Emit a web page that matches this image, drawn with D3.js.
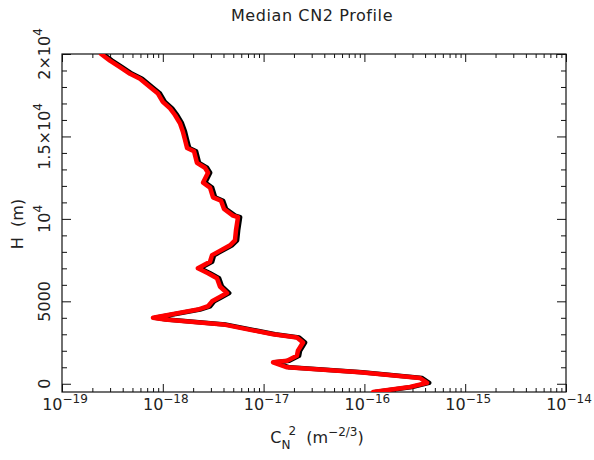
<!DOCTYPE html>
<html>
<head>
<meta charset="utf-8">
<script src="https://cdn.jsdelivr.net/npm/d3@7"></script>
<style>
  html, body { margin: 0; padding: 0; background: #fff; }
  svg { display: block; }
  text { font-family: "DejaVu Sans", sans-serif; fill: #222; }
</style>
</head>
<body>
<svg id="chart" width="594" height="460"></svg>
<script>
// ---- data ----
const title = "Median CN2 Profile";
const heights = [20000, 19600, 19200, 18800, 18500, 18000, 17600, 17100, 16700, 16300,
  15800, 15300, 14800, 14300, 14100, 13400, 13100, 12800, 12200, 11900,
  11300, 11100, 10600, 10200, 10100, 9300, 8700, 8400, 8000, 7800,
  7400, 7200, 7000, 6700, 6400, 5900, 5500, 5200, 5000, 4700,
  4500, 4000, 3900, 3600, 3000, 2800, 2500, 2000, 1700, 1400,
  1300, 1000, 700, 350, 50, -200, -500];
const cn2Red = [2.44e-19, 2.99e-19, 3.76e-19, 4.73e-19, 5.94e-19, 7.46e-19, 8.95e-19, 1.00e-18, 1.18e-18, 1.32e-18,
  1.48e-18, 1.58e-18, 1.66e-18, 1.74e-18, 2.04e-18, 2.18e-18, 2.62e-18, 2.81e-18, 2.51e-18, 2.94e-18,
  3.15e-18, 3.78e-18, 4.05e-18, 4.97e-18, 5.57e-18, 5.32e-18, 5.20e-18, 4.65e-18, 3.53e-18, 3.08e-18,
  2.94e-18, 2.56e-18, 2.23e-18, 2.81e-18, 3.45e-18, 3.69e-18, 4.34e-18, 3.53e-18, 3.08e-18, 2.81e-18,
  2.23e-18, 8.00e-19, 1.05e-18, 3.95e-18, 1.24e-17, 2.14e-17, 2.46e-17, 2.19e-17, 2.14e-17, 1.71e-17,
  1.24e-17, 1.71e-17, 9.03e-17, 3.56e-16, 4.18e-16, 2.83e-16, 1.22e-16];
const cn2Black = [2.56e-19, 3.14e-19, 3.95e-19, 4.97e-19, 6.24e-19, 7.83e-19, 9.40e-19, 1.05e-18, 1.24e-18, 1.39e-18,
  1.55e-18, 1.66e-18, 1.74e-18, 1.83e-18, 2.14e-18, 2.29e-18, 2.75e-18, 2.95e-18, 2.64e-18, 3.09e-18,
  3.31e-18, 3.97e-18, 4.25e-18, 5.22e-18, 5.85e-18, 5.59e-18, 5.46e-18, 4.88e-18, 3.71e-18, 3.23e-18,
  3.09e-18, 2.69e-18, 2.34e-18, 2.95e-18, 3.62e-18, 3.87e-18, 4.56e-18, 3.71e-18, 3.23e-18, 2.95e-18,
  2.34e-18, 8.40e-19, 1.10e-18, 4.15e-18, 1.30e-17, 2.25e-17, 2.58e-17, 2.30e-17, 2.25e-17, 1.80e-17,
  1.30e-17, 1.80e-17, 9.48e-17, 3.74e-16, 4.39e-16, 2.97e-16, 1.28e-16];
const xMajorExponents = [-19, -18, -17, -16, -15, -14];
const yMajorTicks = [0, 5000, 10000, 15000, 20000];
const yMajorLabels = [["0", null], ["5000", null], ["10", "4"], ["1.5\u00d710", "4"], ["2\u00d710", "4"]];

// ---- layout ----
const plot = { left: 62, top: 54, right: 566, bottom: 392 };
const svg = d3.select("#chart");

const x = d3.scaleLog().domain([1e-19, 1e-14]).range([plot.left, plot.right]);
const y = d3.scaleLinear().domain([-500, 20000]).range([plot.bottom, plot.top]);

const xMajor = xMajorExponents.map(e => Math.pow(10, e));
const xMinor = [];
xMajorExponents.slice(0, -1).forEach(e => { for (let k = 2; k <= 9; k++) xMinor.push(k * Math.pow(10, e)); });
const yMinor = d3.range(1000, 20000, 1000).filter(v => v % 5000 !== 0);

function styleAxis(g) {
  g.select(".domain").remove();
  g.selectAll(".tick line").attr("stroke", "#111").attr("stroke-width", 1);
  g.selectAll(".tick text").remove();
}

// ticks (inward on all sides)
svg.append("g").attr("transform", `translate(0,${plot.bottom})`)
  .call(d3.axisBottom(x).tickValues(xMajor).tickSize(-8).tickFormat("")).call(styleAxis);
svg.append("g").attr("transform", `translate(0,${plot.bottom})`)
  .call(d3.axisBottom(x).tickValues(xMinor).tickSize(-4).tickFormat("")).call(styleAxis);
svg.append("g").attr("transform", `translate(0,${plot.top})`)
  .call(d3.axisTop(x).tickValues(xMajor).tickSize(-8).tickFormat("")).call(styleAxis);
svg.append("g").attr("transform", `translate(0,${plot.top})`)
  .call(d3.axisTop(x).tickValues(xMinor).tickSize(-4).tickFormat("")).call(styleAxis);
svg.append("g").attr("transform", `translate(${plot.left},0)`)
  .call(d3.axisLeft(y).tickValues(yMajorTicks).tickSize(-9).tickFormat("")).call(styleAxis);
svg.append("g").attr("transform", `translate(${plot.left},0)`)
  .call(d3.axisLeft(y).tickValues(yMinor).tickSize(-5).tickFormat("")).call(styleAxis);
svg.append("g").attr("transform", `translate(${plot.right},0)`)
  .call(d3.axisRight(y).tickValues(yMajorTicks).tickSize(-9).tickFormat("")).call(styleAxis);
svg.append("g").attr("transform", `translate(${plot.right},0)`)
  .call(d3.axisRight(y).tickValues(yMinor).tickSize(-5).tickFormat("")).call(styleAxis);

// frame
svg.append("rect")
  .attr("x", plot.left).attr("y", plot.top)
  .attr("width", plot.right - plot.left).attr("height", plot.bottom - plot.top)
  .attr("fill", "none").attr("stroke", "#111").attr("stroke-width", 1.2);

// curves
svg.append("clipPath").attr("id", "clip").append("rect")
  .attr("x", plot.left).attr("y", plot.top)
  .attr("width", plot.right - plot.left).attr("height", plot.bottom - plot.top);

const line = d3.line().x(d => x(d[0])).y(d => y(d[1]));
const blackData = cn2Black.map((v, i) => [v, heights[i]]);
const redData = cn2Red.map((v, i) => [v, heights[i]]);
const curves = svg.append("g").attr("clip-path", "url(#clip)");
curves.append("path").datum(blackData).attr("d", line)
  .attr("fill", "none").attr("stroke", "#000").attr("stroke-width", 4.5)
  .attr("stroke-linejoin", "round").attr("stroke-linecap", "round");
curves.append("path").datum(redData).attr("d", line)
  .attr("fill", "none").attr("stroke", "#ff0000").attr("stroke-width", 4.5)
  .attr("stroke-linejoin", "round").attr("stroke-linecap", "round");

// x tick labels
xMajorExponents.forEach(e => {
  const t = svg.append("text")
    .attr("x", x(Math.pow(10, e)) + 3).attr("y", 410)
    .attr("text-anchor", "middle").style("font-size", "16px");
  t.append("tspan").text("10");
  t.append("tspan").attr("dy", -7).style("font-size", "12px").text("\u2212" + Math.abs(e));
});

// y tick labels (rotated)
yMajorTicks.forEach((v, i) => {
  const [base, sup] = yMajorLabels[i];
  const t = svg.append("text")
    .attr("transform", `translate(50,${y(v)}) rotate(-90)`)
    .attr("text-anchor", "middle").style("font-size", "16px");
  t.append("tspan").text(base);
  if (sup) t.append("tspan").attr("dy", -8).style("font-size", "12px").text(sup);
});

// title
svg.append("text").attr("x", 312).attr("y", 21)
  .attr("text-anchor", "middle").style("font-size", "16px")
  .style("letter-spacing", "0.6px").text(title);

// x axis label
const xl = svg.append("text").attr("x", 317).attr("y", 443)
  .attr("text-anchor", "middle").style("font-size", "16px");
xl.append("tspan").text("C");
xl.append("tspan").attr("dy", 6).style("font-size", "12px").text("N");
xl.append("tspan").attr("dy", -14).attr("dx", -2).style("font-size", "12px").text("2");
xl.append("tspan").attr("dy", 8).style("white-space", "pre").text("  (m");
xl.append("tspan").attr("dy", -7).style("font-size", "12px").text("\u22122/3");
xl.append("tspan").attr("dy", 7).text(")");

// y axis label
svg.append("text")
  .attr("transform", `translate(23,224) rotate(-90)`)
  .attr("text-anchor", "middle").style("font-size", "16px")
  .style("white-space", "pre").text("H  (m)");
</script>
</body>
</html>
